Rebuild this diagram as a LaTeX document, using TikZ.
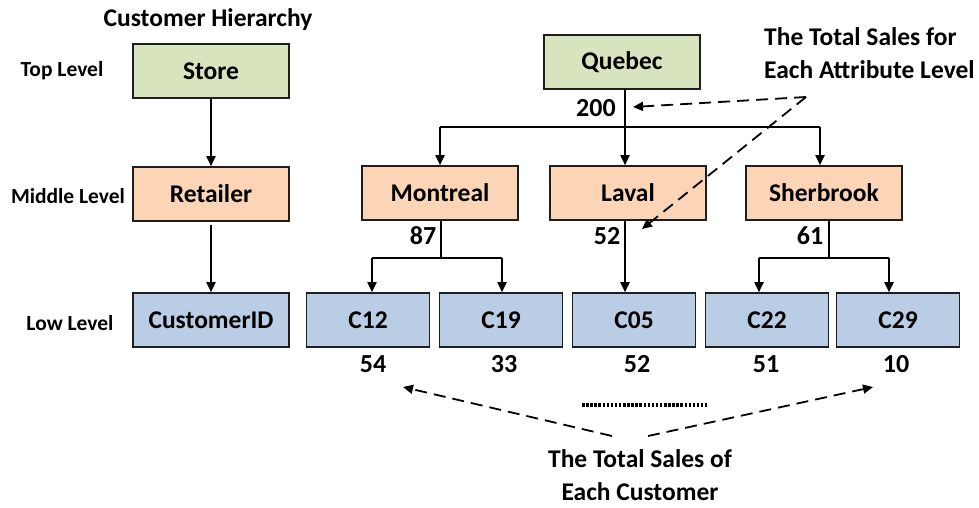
\documentclass[tikz,border=0pt]{standalone}
\usepackage{fontspec}
\setmainfont{Carlito}
\usetikzlibrary{arrows.meta}
\definecolor{topfill}{RGB}{215,228,189}
\definecolor{midfill}{RGB}{251,213,181}
\definecolor{lowfill}{RGB}{185,205,229}
\definecolor{edge}{RGB}{30,30,30}
\tikzset{
  box/.style={draw=edge, line width=1.6pt, minimum width=156pt, minimum height=54pt,
              inner sep=0pt, font=\bfseries\fontsize{25.5}{25.5}\selectfont},
  cbox/.style={box, minimum width=123pt},
  topbox/.style={box, fill=topfill},
  midbox/.style={box, fill=midfill},
  lowbox/.style={box, fill=lowfill},
  lowcbox/.style={cbox, fill=lowfill},
  lvl/.style={font=\bfseries\fontsize{21.5}{21.5}\selectfont, inner sep=0pt},
  num/.style={font=\bfseries\fontsize{26}{26}\selectfont, inner sep=0pt},
  note/.style={font=\bfseries\fontsize{25.5}{33}\selectfont, inner sep=0pt},
  link/.style={line width=1.8pt, -{Triangle[length=10pt,width=9pt]}},
  plain/.style={line width=1.8pt},
  hint/.style={line width=1.8pt, dash pattern=on 12pt off 7pt, -{Triangle[length=10pt,width=9pt]}},
}
\begin{document}
\begin{tikzpicture}[x=1pt,y=-1pt]
\useasboundingbox (0,0) rectangle (979,508);

% ---- generic hierarchy ----
\node[note] (title) at (208,20) {Customer Hierarchy};
\node[topbox] (store) at (211,71) {Store};
\node[midbox] (retailer) at (211,194) {Retailer};
\node[lowbox] (cid) at (211,320) {CustomerID};
\node[lvl] (ltop) at (62,71) {Top Level};
\node[lvl] (lmid) at (68,196) {Middle Level};
\node[lvl] (llow) at (70,323) {Low Level};
\draw[link] (store) -- (retailer);
\draw[link] ([yshift=-3pt]retailer.south) -- (cid);

% ---- example hierarchy ----
\node[topbox] (quebec) at (622,62) {Quebec};
\node[midbox] (montreal) at (440,193) {Montreal};
\node[midbox] (laval) at (628,193) {Laval};
\node[midbox] (sher) at (824,193) {Sherbrook};
\node[lowcbox] (c12) at (368,320) {C12};
\node[lowcbox] (c19) at (501,320) {C19};
\node[lowcbox] (c05) at (634,320) {C05};
\node[lowcbox] (c22) at (767,320) {C22};
\node[lowcbox] (c29) at (898,320) {C29};

% branch points
\coordinate (qsplit) at ([xshift=3pt]quebec.south |- 0,127);
\coordinate (msplit) at ([xshift=1pt]montreal.south |- 0,258);
\coordinate (ssplit) at ([xshift=5pt]sher.south |- 0,258);

\draw[link] ([xshift=3pt]quebec.south) -- ([xshift=-3pt]laval.north);
\draw[plain] (qsplit -| montreal.north) -- ([xshift=-4pt]qsplit -| sher.north);
\draw[link] (qsplit -| montreal.north) -- (montreal.north);
\draw[link] ([xshift=-4pt]qsplit -| sher.north) -- ([xshift=-4pt]sher.north);

\draw[plain] ([xshift=1pt]montreal.south) -- (msplit);
\draw[plain] ([xshift=4pt]msplit -| c12.north) -- ([xshift=1pt]msplit -| c19.north);
\draw[link] ([xshift=4pt]msplit -| c12.north) -- ([xshift=4pt]c12.north);
\draw[link] ([xshift=1pt]msplit -| c19.north) -- ([xshift=1pt]c19.north);

\draw[link] ([xshift=-3pt]laval.south) -- ([xshift=-9pt]c05.north);

\draw[plain] ([xshift=5pt]sher.south) -- (ssplit);
\draw[plain] ([xshift=-8pt]ssplit -| c22.north) -- ([xshift=-9pt]ssplit -| c29.north);
\draw[link] ([xshift=-8pt]ssplit -| c22.north) -- ([xshift=-8pt]c22.north);
\draw[link] ([xshift=-9pt]ssplit -| c29.north) -- ([xshift=-9pt]c29.north);

% ---- totals ----
\node[num] (v200) at (596,108) {200};
\node[num] (v87) at (423,236) {87};
\node[num] (v52a) at (607,236) {52};
\node[num] (v61) at (810,236) {61};
\node[num] (v54) at (373,364) {54};
\node[num] (v33) at (504,364) {33};
\node[num] (v52b) at (637,364) {52};
\node[num] (v51) at (766,364) {51};
\node[num] (v10) at (896,364) {10};

% dotted continuation mark
\draw[line width=3.5pt, dash pattern=on 2.5pt off 1.6pt] (582,405) -- (707,405);

% ---- annotations ----
\node[note, align=left, anchor=north west] (attrnote) at (764,27) {The Total Sales for\\Each Attribute Level};
\coordinate (attrfork) at (806,97);
\coordinate (to200) at (633,107);
\coordinate (to52) at (642,229);
\draw[hint] (attrfork) -- (to200);
\draw[hint] (attrfork) -- (to52);

\node[note, align=center, anchor=north] (custnote) at (640,449) {The Total Sales of\\Each Customer};
\coordinate (custl) at (612,436);
\coordinate (custr) at (648,436);
\coordinate (to54) at (403,387);
\coordinate (to10) at (873,387);
\draw[hint] (custl) -- (to54);
\draw[hint] (custr) -- (to10);
\end{tikzpicture}
\end{document}
